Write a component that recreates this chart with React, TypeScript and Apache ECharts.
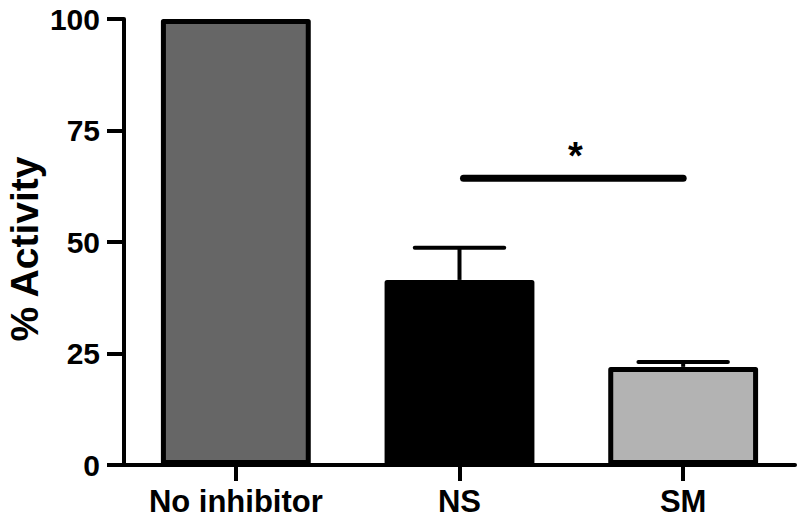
import React, { useEffect, useRef } from "react";
import * as echarts from "echarts";

const categories = ["No inhibitor", "NS", "SM"];
const values = [100, 41.5, 22];
const barColors = ["#666666", "#000000", "#b3b3b3"];
const errorTops = [null, 48.7, 23.1];
const yTicks = { min: 0, max: 100, interval: 25 };
const significance = [{ from: 1, to: 2, y: 64.3, label: "*" }];

export default function App() {
  const ref = useRef<HTMLDivElement>(null);
  useEffect(() => {
    if (!ref.current) return;
    const chart = echarts.init(ref.current, null, { renderer: "svg" });
    const font = "'Liberation Sans', Arial, sans-serif";
    const errData = values
      .map((v, i) => (errorTops[i] == null ? null : [i, v, errorTops[i]]))
      .filter((d) => d != null);
    chart.setOption({
      animation: false,
      backgroundColor: "#ffffff",
      grid: { left: 124, right: 5, top: 19, bottom: 54, containLabel: false, outerBoundsMode: "none" },
      xAxis: {
        type: "category",
        data: categories,
        axisLine: { lineStyle: { color: "#000", width: 4 } },
        axisTick: { show: true, length: 16, alignWithLabel: true, lineStyle: { color: "#000", width: 4 } },
        axisLabel: { color: "#000", fontSize: 31, fontWeight: "bold", fontFamily: font, margin: 21, interval: 0, hideOverlap: false },
        splitLine: { show: false },
      },
      yAxis: {
        type: "value",
        min: yTicks.min,
        max: yTicks.max,
        interval: yTicks.interval,
        name: "% Activity",
        nameLocation: "middle",
        nameGap: 80,
        nameMoveOverlap: false,
        nameTextStyle: { color: "#000", fontSize: 39, fontWeight: "bold", fontFamily: font, padding: [0, 14, 0, 0] },
        axisLine: { show: true, lineStyle: { color: "#000", width: 4 } },
        axisTick: { show: true, length: 17, lineStyle: { color: "#000", width: 4 } },
        axisLabel: { color: "#000", fontSize: 30, fontWeight: "bold", fontFamily: font, margin: 24 },
        splitLine: { show: false },
      },
      series: [
        {
          type: "bar",
          barWidth: "67%",
          data: values.map((v, i) => ({
            value: v,
            itemStyle: { color: barColors[i], borderColor: "#000", borderWidth: 5, borderJoin: "round" },
          })),
          z: 2,
        },
        {
          type: "custom",
          z: 3,
          data: errData,
          renderItem: (params: any, api: any) => {
            const x = api.value(0);
            const base = api.coord([x, api.value(1)]);
            const top = api.coord([x, api.value(2)]);
            const band = api.size([1, 0])[0];
            const half = band * 0.2;
            return {
              type: "group",
              children: [
                {
                  type: "line",
                  shape: { x1: top[0], y1: base[1], x2: top[0], y2: top[1] },
                  style: { stroke: "#000", lineWidth: 4 },
                },
                {
                  type: "line",
                  shape: { x1: top[0] - half, y1: top[1], x2: top[0] + half, y2: top[1] },
                  style: { stroke: "#000", lineWidth: 4, lineCap: "round" },
                },
              ],
            };
          },
        },
        {
          type: "custom",
          z: 3,
          data: significance.map((s) => [s.from, s.to, s.y]),
          renderItem: (params: any, api: any) => {
            const a = api.coord([api.value(0), api.value(2)]);
            const b = api.coord([api.value(1), api.value(2)]);
            const s = significance[params.dataIndex];
            return {
              type: "group",
              children: [
                {
                  type: "line",
                  shape: { x1: a[0] + 4, y1: a[1], x2: b[0], y2: b[1] },
                  style: { stroke: "#000", lineWidth: 7, lineCap: "round" },
                },
                {
                  type: "text",
                  x: (a[0] + b[0]) / 2 + 4,
                  y: a[1] - 22,
                  style: {
                    text: s.label,
                    fill: "#000",
                    fontSize: 38,
                    fontWeight: "bold",
                    fontFamily: font,
                    align: "center",
                    verticalAlign: "middle",
                  },
                },
              ],
            };
          },
        },
      ],
    });
    return () => chart.dispose();
  }, []);
  return <div ref={ref} style={{ width: 800, height: 519, position: "absolute", left: 0, top: 0 }} />;
}
